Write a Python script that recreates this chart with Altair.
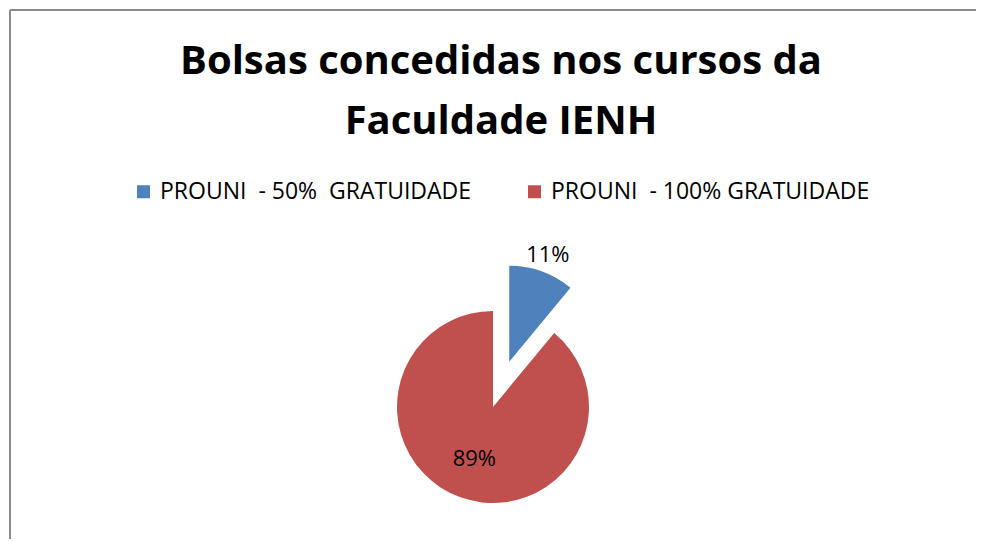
import altair as alt
import pandas as pd

# ---- data ----
categories = ["PROUNI\u00a0 -\u00a050%\u00a0 GRATUIDADE", "PROUNI\u00a0 -\u00a0100% GRATUIDADE"]
shares = [11, 89]
slice_order = [0, 1]
title_lines = ["Bolsas concedidas nos cursos da", "Faculdade IENH"]

# ---- styles ----
colors = ["#4F81BD", "#C0504D"]
explode_px = [48, 0]
label_radius = [114, 55]
CX, CY, R = 483, 187, 96
W, H = 966, 319
FONT = "Open Sans"

df = pd.DataFrame({"categoria": categories, "valor": shares, "ordem": slice_order})
df["explode"] = explode_px
df["lr"] = label_radius

base = alt.Chart(df).transform_joinaggregate(
    total="sum(valor)"
).transform_window(
    cum="sum(valor)", sort=[alt.SortField("ordem")], frame=[None, 0]
).transform_calculate(
    t0="2*PI*(datum.cum - datum.valor)/datum.total",
    t1="2*PI*datum.cum/datum.total",
).transform_calculate(
    mid="(datum.t0 + datum.t1)/2"
).transform_calculate(
    cx=f"{CX} + datum.explode*sin(datum.mid)",
    cy=f"{CY} - datum.explode*cos(datum.mid)",
).transform_calculate(
    lx="datum.cx + datum.lr*sin(datum.mid)",
    ly="datum.cy - datum.lr*cos(datum.mid)",
    pct="format(datum.valor/datum.total, '.0%')",
)

arcs = base.mark_arc(outerRadius=R, stroke=None).encode(
    theta=alt.Theta("t0:Q", scale=None),
    theta2="t1:Q",
    x=alt.X("cx:Q", scale=None),
    y=alt.Y("cy:Q", scale=None),
    color=alt.Color(
        "categoria:N",
        scale=alt.Scale(domain=categories, range=colors),
        legend=alt.Legend(
            title=None,
            orient="none",
            legendX=122,
            legendY=-40,
            direction="horizontal",
            symbolType="square",
            symbolSize=169,
            symbolStrokeWidth=0,
            labelFontSize=23,
            labelFont=FONT,
            labelColor="black",
            labelOffset=5,
            labelLimit=0,
            columnPadding=51,
            padding=0,
        ),
    ),
)

texts = base.mark_text(fontSize=22, font=FONT, color="black", baseline="middle").encode(
    x=alt.X("lx:Q", scale=None),
    y=alt.Y("ly:Q", scale=None),
    text="pct:N",
)

dummy = pd.DataFrame({"k": [0]})
frame_left = alt.Chart(dummy).mark_rule(color="#8c8c8c", strokeWidth=2).encode(
    x=alt.value(0), y=alt.value(-210), y2=alt.value(340)
)
frame_top = alt.Chart(dummy).mark_rule(color="#8c8c8c", strokeWidth=2).encode(
    x=alt.value(0), x2=alt.value(W + 10), y=alt.value(-210)
)

chart = alt.layer(frame_left, frame_top, arcs, texts).properties(
    width=W,
    height=H,
    autosize="none",
    padding={"left": 2, "top": 212, "right": 0, "bottom": 0},
    title=alt.Title(
        text=title_lines,
        font=FONT,
        fontSize=40,
        fontWeight="bold",
        color="black",
        anchor="middle",
        lineHeight=60,
        offset=-133,
        dx=8,
    ),
).configure_view(stroke=None)

chart.save("out.html", embed_options={"renderer": "svg", "actions": False})
